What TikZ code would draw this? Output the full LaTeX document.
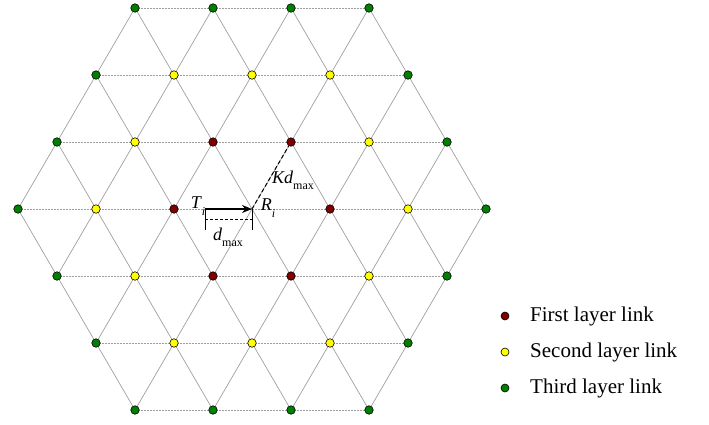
\documentclass[tikz,border=0pt]{standalone}
\usepackage{fontspec}
\setmainfont{Liberation Serif}
\usetikzlibrary{arrows.meta}
\definecolor{firstc}{RGB}{128,0,0}
\definecolor{secondc}{RGB}{255,255,0}
\definecolor{thirdc}{RGB}{0,128,0}
\newcommand{\lsub}[1]{\raisebox{-0.35em}{\fontsize{12}{12}\selectfont #1}}
\begin{document}
\begin{tikzpicture}[x=1pt,y=-1pt,
  lattice/.style={draw=gray!75,line width=0.7pt},
  hline/.style={lattice,dash pattern=on 2pt off 1pt},
  dot/.style={circle,draw=black,line width=0.6pt,inner sep=0pt,minimum size=8.5pt},
  lbl/.style={inner sep=0pt,font=\fontsize{18}{20}\selectfont},
  legtxt/.style={anchor=west,inner sep=0pt,font=\fontsize{21}{24}\selectfont}]
\useasboundingbox (0,0) rectangle (709,424);
% lattice coordinates
\foreach \q in {-3,...,3}{
  \foreach \r in {-3,...,3}{
    \pgfmathtruncatemacro{\s}{-\q-\r}
    \pgfmathtruncatemacro{\ok}{abs(\s)<=3}
    \ifnum\ok=1
      \pgfmathtruncatemacro{\qi}{\q+3}
      \pgfmathtruncatemacro{\ri}{\r+3}
      \coordinate (p\qi\ri) at ({252+78*\q+39*\r},{209-67*\r});
    \fi
  }
}
% horizontal lines
\foreach \r in {-3,...,3}{
  \pgfmathtruncatemacro{\qa}{max(-3,-3-\r)+3}
  \pgfmathtruncatemacro{\qb}{min(3,3-\r)+3}
  \pgfmathtruncatemacro{\ri}{\r+3}
  \draw[hline] (p\qa\ri) -- (p\qb\ri);
}
% constant q lines
\foreach \q in {-3,...,3}{
  \pgfmathtruncatemacro{\ra}{max(-3,-3-\q)+3}
  \pgfmathtruncatemacro{\rb}{min(3,3-\q)+3}
  \pgfmathtruncatemacro{\qi}{\q+3}
  \draw[lattice] (p\qi\ra) -- (p\qi\rb);
}
% constant q+r lines
\foreach \c in {-3,...,3}{
  \pgfmathtruncatemacro{\qa}{max(-3,\c-3)}
  \pgfmathtruncatemacro{\qb}{min(3,\c+3)}
  \pgfmathtruncatemacro{\qai}{\qa+3}
  \pgfmathtruncatemacro{\rai}{\c-\qa+3}
  \pgfmathtruncatemacro{\qbi}{\qb+3}
  \pgfmathtruncatemacro{\rbi}{\c-\qb+3}
  \draw[lattice] (p\qai\rai) -- (p\qbi\rbi);
}
% dots
\foreach \q in {-3,...,3}{
  \foreach \r in {-3,...,3}{
    \pgfmathtruncatemacro{\s}{-\q-\r}
    \pgfmathtruncatemacro{\d}{max(abs(\q),abs(\r),abs(\s))}
    \ifnum\d<4
    \ifnum\d>0
      \ifcase\d\or\def\col{firstc}\or\def\col{secondc}\or\def\col{thirdc}\fi
      \pgfmathtruncatemacro{\qi}{\q+3}
      \pgfmathtruncatemacro{\ri}{\r+3}
      \node[dot,fill=\col] (d\qi\ri) at (p\qi\ri) {};
    \fi
    \fi
  }
}
% transmitter / receiver
\coordinate (ti) at (205,209);
\coordinate (ba) at (205,230);
\coordinate (bb) at (252,230);
\coordinate (ca) at (205,219);
\coordinate (cb) at (252,219);
\draw[line width=0.8pt] (ti) -- (ba);
\draw[line width=0.8pt] (p33) -- (bb);
\draw[line width=0.8pt,dash pattern=on 3pt off 2pt] (ca) -- (cb);
\draw[-{Stealth[length=10pt,width=8pt]},line width=1.4pt] (ti) -- (p33);
\draw[line width=1pt,dash pattern=on 4pt off 2.5pt] (p33) -- (d34);
\node[lbl] (tl) at (198,206) {\textit{T}\lsub{\textit{i}}};
\node[lbl] (rl) at (268,208) {\textit{R}\lsub{\textit{i}}};
\node[lbl] (kl) at (293,180) {\textit{Kd}\lsub{max}};
\node[lbl] (dl) at (228,237) {\textit{d}\lsub{max}};
% legend
\node[dot,fill=firstc,minimum size=8pt] (l1) at (505,316) {};
\node[dot,fill=secondc,minimum size=8pt] (l2) at (505,352) {};
\node[dot,fill=thirdc,minimum size=8pt] (l3) at (505,388) {};
\node[legtxt] (t1) at (530,316) {First layer link};
\node[legtxt] (t2) at (530,352) {Second layer link};
\node[legtxt] (t3) at (530,388) {Third layer link};
\end{tikzpicture}
\end{document}
